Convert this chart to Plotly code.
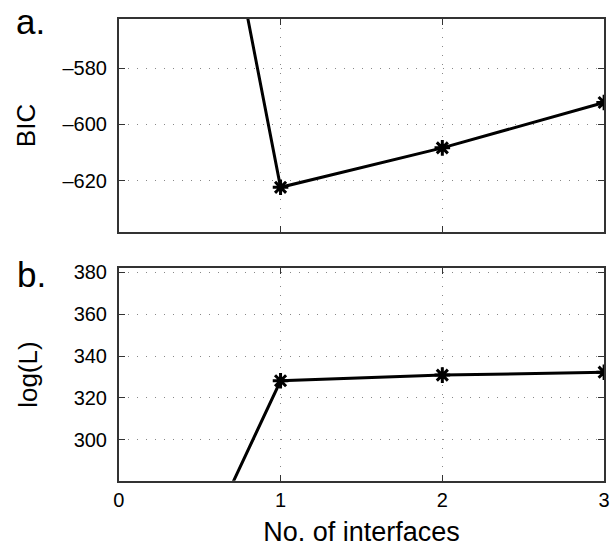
import plotly.graph_objects as go

n_interfaces = [0, 1, 2, 3]
bic = [-326, -622.3, -608.3, -592.2]
logl = [163, 328.2, 330.9, 332.3]
x_ticks = [0, 1, 2, 3]
bic_ticks = [-620, -600, -580]
bic_tick_text = ["\u2013620", "\u2013600", "\u2013580"]
logl_ticks = [300, 320, 340, 360, 380]

W, H = 616, 547
FONT = "Liberation Sans, Arial, Helvetica, sans-serif"

marker = dict(symbol="asterisk-open", size=13, color="black",
              line=dict(color="black", width=3))

fig = go.Figure()
fig.add_trace(go.Scatter(x=n_interfaces, y=bic, mode="lines+markers",
                         line=dict(color="black", width=3), marker=marker,
                         xaxis="x", yaxis="y", showlegend=False))
fig.add_trace(go.Scatter(x=n_interfaces, y=logl, mode="lines+markers",
                         line=dict(color="black", width=3), marker=marker,
                         xaxis="x2", yaxis="y2", showlegend=False))

xd = [115 / W, 610 / W]
common_axis = dict(showline=True, linecolor="#333", linewidth=1.5, mirror="ticks",
                   ticks="inside", ticklen=6, tickcolor="#333",
                   showgrid=True, gridcolor="#888", griddash="1px,8px", gridwidth=1,
                   zeroline=False, tickfont=dict(size=20, color="black", family=FONT))

fig.update_layout(
    width=W, height=H, margin=dict(l=0, r=0, t=0, b=0),
    plot_bgcolor="white", paper_bgcolor="white",
    font=dict(family=FONT, color="black"),
    xaxis=dict(domain=xd, anchor="y", range=[0, 3], tickvals=x_ticks,
               showticklabels=False, **common_axis),
    yaxis=dict(domain=[1 - 228 / H, 1 - 12 / H], anchor="x", range=[-638.2, -562.5],
               tickvals=bic_ticks, ticktext=bic_tick_text, ticklabelstandoff=6,
               title=dict(text="BIC", font=dict(size=26), standoff=19), **common_axis),
    xaxis2=dict(domain=xd, anchor="y2", range=[0, 3], tickvals=x_ticks,
                title=dict(text="No. of interfaces", font=dict(size=27), standoff=13),
                **common_axis),
    yaxis2=dict(domain=[1 - 480 / H, 1 - 264.7 / H], anchor="x2", range=[280.3, 382],
                tickvals=logl_ticks, ticklabelstandoff=6,
                title=dict(text="log(L)", font=dict(size=26), standoff=29), **common_axis),
    annotations=[
        dict(text="a.", x=8 / W, y=1 + 7 / H, xref="paper", yref="paper",
             xanchor="left", yanchor="top", showarrow=False,
             font=dict(size=35, family=FONT, color="black")),
        dict(text="b.", x=9 / W, y=1 - 249 / H, xref="paper", yref="paper",
             xanchor="left", yanchor="top", showarrow=False,
             font=dict(size=35, family=FONT, color="black")),
    ],
)

fig.write_html("out.html")
